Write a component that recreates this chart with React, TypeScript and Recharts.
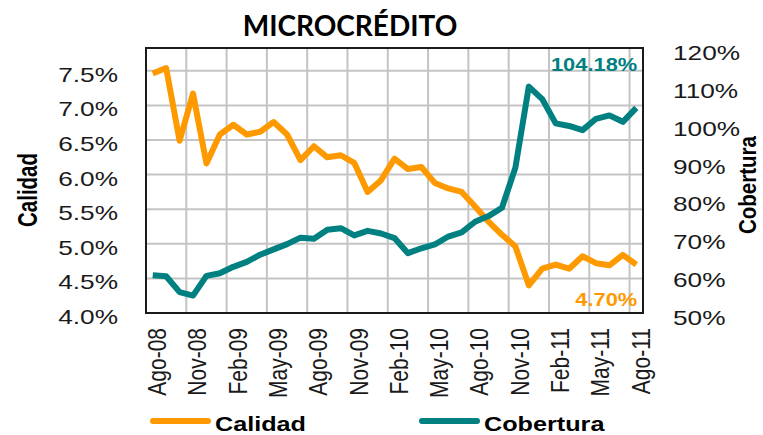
import React from 'react'
import {
  LineChart,
  Line,
  XAxis,
  YAxis,
  CartesianGrid,
  ReferenceArea,
  Legend,
  LabelList
} from 'recharts'

const months = [
  'Ago-08', 'Sep-08', 'Oct-08', 'Nov-08', 'Dic-08', 'Ene-09', 'Feb-09', 'Mar-09', 'Abr-09',
  'May-09', 'Jun-09', 'Jul-09', 'Ago-09', 'Sep-09', 'Oct-09', 'Nov-09', 'Dic-09', 'Ene-10',
  'Feb-10', 'Mar-10', 'Abr-10', 'May-10', 'Jun-10', 'Jul-10', 'Ago-10', 'Sep-10', 'Oct-10',
  'Nov-10', 'Dic-10', 'Ene-11', 'Feb-11', 'Mar-11', 'Abr-11', 'May-11', 'Jun-11', 'Jul-11',
  'Ago-11'
]

// morosidad (%), eje izquierdo
const calidad = [
  7.46, 7.54, 6.49, 7.17, 6.16, 6.58, 6.72, 6.58, 6.62,
  6.76, 6.58, 6.21, 6.41, 6.25, 6.28, 6.17, 5.75, 5.92,
  6.23, 6.08, 6.11, 5.88, 5.80, 5.75, 5.54, 5.32, 5.13,
  4.96, 4.40, 4.64, 4.70, 4.64, 4.82, 4.72, 4.69, 4.84,
  4.70
]

// cobertura (%), eje derecho
const cobertura = [
  60.0, 59.7, 55.5, 54.6, 59.8, 60.5, 62.2, 63.5, 65.4,
  66.8, 68.2, 69.9, 69.6, 72.0, 72.4, 70.5, 71.7, 71.0,
  69.8, 65.8, 67.1, 68.1, 70.2, 71.3, 74.1, 75.6, 77.8,
  88.4, 109.8, 106.5, 100.1, 99.4, 98.3, 101.3, 102.2, 100.5,
  104.18
]

const leftTicks = [4.0, 4.5, 5.0, 5.5, 6.0, 6.5, 7.0, 7.5]
const rightTicks = [50, 60, 70, 80, 90, 100, 110, 120]

const ORANGE = '#FF9900'
const TEAL = '#008080'
const FONT = '"Liberation Sans", Arial, sans-serif'
const STRETCH = 1.25
const LAST = months.length - 1

const chartData = months.map((month, idx) => ({
  idx,
  month,
  calidad: calidad[idx],
  cobertura: cobertura[idx]
}))

const monthTicks = months.map((_, i) => i).filter(i => i % 3 === 0)
const gridTicks = monthTicks.map(i => i - 0.5)

const LeftTick = ({ x, y, payload }: any) => (
  <g transform={`translate(${x},${y}) scale(${STRETCH},1)`}>
    <text textAnchor="end" dy={11} fontSize={21} fill="#1a1a1a" fontFamily={FONT}>
      {payload.value.toFixed(1)}%
    </text>
  </g>
)

const RightTick = ({ x, y, payload }: any) => (
  <g transform={`translate(${x},${y}) scale(${STRETCH},1)`}>
    <text textAnchor="start" dy={12} fontSize={21} fill="#1a1a1a" fontFamily={FONT}>
      {payload.value}%
    </text>
  </g>
)

const MonthTick = ({ x, y, payload }: any) => (
  <g transform={`translate(${x},${y}) scale(${STRETCH},1) rotate(-90)`}>
    <text textAnchor="end" dy={10.7} fontSize={21} fill="#1a1a1a" fontFamily={FONT}>
      {months[payload.value]}
    </text>
  </g>
)

const AxisTitle = ({ viewBox, text, dx, dy, stretch }: any) => {
  const x = viewBox.x + dx
  const y = viewBox.y + viewBox.height / 2 + dy
  return (
    <g transform={`translate(${x},${y}) scale(${stretch},1) rotate(-90)`}>
      <text textAnchor="middle" dy="0.35em" fontSize={20.5} fontWeight="bold" fill="#000" fontFamily={FONT}>
        {text}
      </text>
    </g>
  )
}

const endLabel = (color: string, offsetY: number, digits: number) => (props: any) => {
  const { index, x, y, value } = props
  if (index !== LAST) return null
  return (
    <g transform={`translate(${x + 1},${y + offsetY}) scale(${STRETCH},1)`}>
      <text textAnchor="end" dy="0.35em" fontSize={17.5} fontWeight="bold" fill={color} fontFamily={FONT}>
        {Number(value).toFixed(digits)}%
      </text>
    </g>
  )
}

const renderLegend = ({ payload }: any) => (
  <div style={{ width: 763, height: 28, position: 'relative', fontFamily: FONT }}>
    {(payload || []).map((entry: any, i: number) => (
      <div
        key={entry.value}
        style={{
          position: 'absolute',
          left: i === 0 ? 150 : 419,
          top: 0,
          height: 28,
          display: 'flex',
          alignItems: 'center'
        }}
      >
        <span
          style={{
            display: 'inline-block',
            width: 61,
            height: 6,
            borderRadius: 3,
            background: entry.color
          }}
        />
        <span
          style={{
            display: 'inline-block',
            marginLeft: 4,
            fontSize: 21,
            fontWeight: 'bold',
            color: '#000',
            transform: 'scaleX(1.2)',
            transformOrigin: 'left center',
            marginTop: 6
          }}
        >
          {entry.value}
        </span>
      </div>
    ))}
  </div>
)

export default function App() {
  return (
    <div style={{ position: 'absolute', left: 0, top: 0, width: 763, height: 435, background: '#fff' }}>
      <div
        style={{
          position: 'absolute',
          left: 350,
          top: 11,
          transform: 'translateX(-50%)',
          fontFamily: 'Lato, "Open Sans", sans-serif',
          fontWeight: 'bold',
          fontSize: 28,
          lineHeight: '28px',
          whiteSpace: 'nowrap',
          color: '#000'
        }}
      >
        MICROCRÉDITO
      </div>
      <LineChart
        width={763}
        height={435}
        data={chartData}
        margin={{ top: 48, right: 0, bottom: 0, left: 0 }}
      >
        <CartesianGrid xAxisId="grid" yAxisId="left" stroke="#c4c4c4" strokeWidth={2} />
        <XAxis
          dataKey="idx"
          type="number"
          domain={[-0.5, LAST + 0.5]}
          ticks={monthTicks}
          interval={0}
          tick={<MonthTick />}
          tickSize={0}
          tickMargin={15}
          axisLine={false}
          tickLine={false}
          height={94}
        />
        <XAxis
          xAxisId="grid"
          dataKey="idx"
          type="number"
          domain={[-0.5, LAST + 0.5]}
          ticks={gridTicks}
          hide
        />
        <YAxis
          yAxisId="left"
          domain={[4, 7.83]}
          ticks={leftTicks}
          interval={0}
          width={146}
          tick={<LeftTick />}
          tickSize={0}
          tickMargin={28}
          axisLine={false}
          tickLine={false}
          label={<AxisTitle text="Calidad" dx={27} dy={9.5} stretch={1.35} />}
        />
        <YAxis
          yAxisId="right"
          orientation="right"
          domain={[50, 120]}
          ticks={rightTicks}
          interval={0}
          width={120}
          tick={<RightTick />}
          tickSize={0}
          tickMargin={30}
          axisLine={false}
          tickLine={false}
          label={<AxisTitle text="Cobertura" dx={105} dy={4.5} stretch={1.15} />}
        />
        <ReferenceArea
          yAxisId="left"
          x1={-0.5}
          x2={LAST + 0.5}
          y1={4}
          y2={7.83}
          fill="none"
          fillOpacity={0}
          stroke="#1a1a1a"
          strokeWidth={2}
        />
        <Legend verticalAlign="bottom" content={renderLegend} />
        <Line
          yAxisId="left"
          type="linear"
          dataKey="calidad"
          name="Calidad"
          stroke={ORANGE}
          strokeWidth={6}
          strokeLinejoin="round"
          dot={false}
          activeDot={false}
          isAnimationActive={false}
        >
          <LabelList dataKey="calidad" content={endLabel(ORANGE, 35, 2)} />
        </Line>
        <Line
          yAxisId="right"
          type="linear"
          dataKey="cobertura"
          name="Cobertura"
          stroke={TEAL}
          strokeWidth={6}
          strokeLinejoin="round"
          dot={false}
          activeDot={false}
          isAnimationActive={false}
        >
          <LabelList dataKey="cobertura" content={endLabel(TEAL, -43, 2)} />
        </Line>
      </LineChart>
    </div>
  )
}
